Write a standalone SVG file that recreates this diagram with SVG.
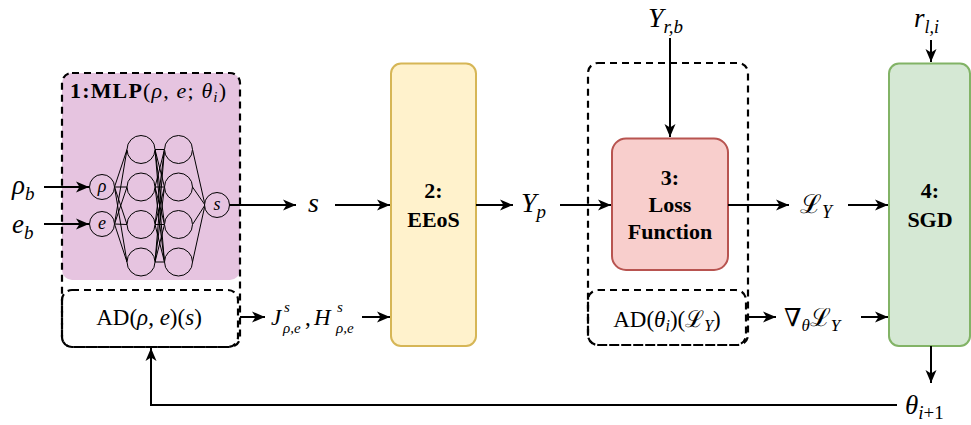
<svg xmlns="http://www.w3.org/2000/svg" width="971" height="425" viewBox="0 0 971 425">
<style>
text{font-family:'Liberation Serif','DejaVu Serif','Times New Roman',Times,serif;fill:#000}
.i{font-style:italic}
.b{font-weight:bold}
.c{fill:none;stroke:#000;stroke-width:2}
.d{fill:none;stroke:#000;stroke-width:2.2;stroke-dasharray:7 5}
.n{fill:none;stroke:#000;stroke-width:1}
.nc{fill:#E6C4E0;stroke:#000;stroke-width:1}
</style>
<defs>
<marker id="a" markerUnits="userSpaceOnUse" markerWidth="14" markerHeight="12" refX="13" refY="6" orient="auto">
<path d="M0,0.5 L13,6 L0,11.5 L3.5,6 z" fill="#000"/>
</marker>
</defs>
<rect width="971" height="425" fill="#fff"/>

<g id="mlp">
<rect x="62" y="73" width="178" height="207" rx="10" fill="#E6C4E0"/>
<rect x="62" y="73" width="178" height="274" rx="10" class="d"/>
<text x="70" y="98" font-size="22" textLength="156" lengthAdjust="spacing"><tspan class="b">1:MLP</tspan>(<tspan class="i">ρ</tspan>, <tspan class="i">e</tspan>; <tspan class="i">θ</tspan><tspan class="i" font-size="15" dy="4">i</tspan><tspan dy="-4">)</tspan></text>
<g id="net">
<path class="n" d="M114.5,187 L127,149.5 M114.5,187 L127,187 M114.5,187 L127,224.5 M114.5,187 L127,262 M114.5,224 L127,149.5 M114.5,224 L127,187 M114.5,224 L127,224.5 M114.5,224 L127,262"/>
<path class="n" d="M155,149.5 L164.5,149.5 M155,149.5 L164.5,187 M155,149.5 L164.5,224.5 M155,149.5 L164.5,262 M155,187 L164.5,149.5 M155,187 L164.5,187 M155,187 L164.5,224.5 M155,187 L164.5,262 M155,224.5 L164.5,149.5 M155,224.5 L164.5,187 M155,224.5 L164.5,224.5 M155,224.5 L164.5,262 M155,262 L164.5,149.5 M155,262 L164.5,187 M155,262 L164.5,224.5 M155,262 L164.5,262"/>
<path class="n" d="M192.5,149.5 L205,205 M192.5,187 L205,205 M192.5,224.5 L205,205 M192.5,262 L205,205"/>
<circle class="nc" cx="102" cy="187" r="12.5"/>
<circle class="nc" cx="102" cy="224" r="12.5"/>
<circle class="nc" cx="141" cy="149.5" r="14"/>
<circle class="nc" cx="141" cy="187" r="14"/>
<circle class="nc" cx="141" cy="224.5" r="14"/>
<circle class="nc" cx="141" cy="262" r="14"/>
<circle class="nc" cx="178.5" cy="149.5" r="14"/>
<circle class="nc" cx="178.5" cy="187" r="14"/>
<circle class="nc" cx="178.5" cy="224.5" r="14"/>
<circle class="nc" cx="178.5" cy="262" r="14"/>
<circle class="nc" cx="217" cy="205" r="12.5"/>
<text class="i" x="102" y="192" font-size="18" text-anchor="middle">ρ</text>
<text class="i" x="102" y="229" font-size="18" text-anchor="middle">e</text>
<text class="i" x="217" y="210" font-size="18" text-anchor="middle">s</text>
</g>
</g>

<g id="ad1">
<rect x="62" y="290" width="176" height="57" rx="10" class="d"/>
<text x="149" y="325" font-size="23" text-anchor="middle">AD(<tspan class="i">ρ</tspan>, <tspan class="i">e</tspan>)(<tspan class="i">s</tspan>)</text>
</g>

<g id="eeos">
<rect x="391" y="63.5" width="85" height="282.5" rx="10" fill="#FFF2CC" stroke="#D6B656" stroke-width="2"/>
<text class="b" x="433.5" y="198" font-size="22" text-anchor="middle">2:</text>
<text class="b" x="433.5" y="227" font-size="22" text-anchor="middle">EEoS</text>
</g>

<g id="lossgroup">
<rect x="588" y="63" width="160" height="282" rx="10" class="d"/>
<rect x="588" y="290" width="158" height="55" rx="10" class="d"/>
<text x="667" y="327" font-size="23" text-anchor="middle">AD(<tspan class="i">θ</tspan><tspan class="i" font-size="16" dy="4">i</tspan><tspan dy="-4">)(ℒ</tspan><tspan class="i" font-size="16" dy="4">Y</tspan><tspan dy="-4">)</tspan></text>
</g>

<g id="loss">
<rect x="612" y="138.5" width="116" height="131.5" rx="14" fill="#F8CECC" stroke="#B85450" stroke-width="2"/>
<text class="b" x="670" y="185" font-size="22" text-anchor="middle">3:</text>
<text class="b" x="670" y="212" font-size="22" text-anchor="middle">Loss</text>
<text class="b" x="670" y="239" font-size="22" text-anchor="middle">Function</text>
</g>

<g id="sgd">
<rect x="889" y="63.5" width="81" height="282.5" rx="10" fill="#D5E8D4" stroke="#82B366" stroke-width="2"/>
<text class="b" x="930" y="198" font-size="22" text-anchor="middle">4:</text>
<text class="b" x="930" y="227" font-size="22" text-anchor="middle">SGD</text>
</g>

<g id="labels">
<text class="i" x="12" y="194" font-size="27">ρ<tspan font-size="19" dy="6">b</tspan></text>
<text class="i" x="12" y="233" font-size="27">e<tspan font-size="19" dy="6">b</tspan></text>
<text class="i" x="308" y="212" font-size="28">s</text>
<text class="i" x="521" y="212" font-size="28">Y<tspan font-size="19" dy="6">p</tspan></text>
<text x="800" y="213" font-size="26">ℒ<tspan class="i" font-size="18" dy="5">Y</tspan></text>
<text class="i" x="648" y="27" font-size="28">Y<tspan font-size="19" dy="6">r,b</tspan></text>
<text class="i" x="914" y="27" font-size="27">r<tspan font-size="18" dy="6">l,i</tspan></text>
<text class="i" x="905" y="414" font-size="27">θ<tspan font-size="19" dy="5">i</tspan><tspan font-style="normal" font-size="19">+1</tspan></text>
<text class="i" x="271" y="325" font-size="23">J</text>
<text class="i" x="284" y="312" font-size="15">s</text>
<text class="i" x="283" y="333" font-size="15">ρ,e</text>
<text x="305" y="325" font-size="23">,</text>
<text class="i" x="314" y="325" font-size="23">H</text>
<text class="i" x="337" y="312" font-size="15">s</text>
<text class="i" x="336" y="333" font-size="15">ρ,e</text>
<text x="784" y="326" font-size="25">∇<tspan class="i" font-size="17" dy="5">θ</tspan><tspan font-size="25" dy="-5">ℒ</tspan><tspan class="i" font-size="17" dy="5">Y</tspan></text>
</g>

<g id="connectors">
<path class="c" d="M44,187 L89,187" marker-end="url(#a)"/>
<path class="c" d="M44,224 L89,224" marker-end="url(#a)"/>
<path class="c" d="M229.5,205 L296,205" marker-end="url(#a)"/>
<path class="c" d="M335,205 L390,205" marker-end="url(#a)"/>
<path class="c" d="M240,317 L265,317" marker-end="url(#a)"/>
<path class="c" d="M362,317 L390,317" marker-end="url(#a)"/>
<path class="c" d="M476,205 L513,205" marker-end="url(#a)"/>
<path class="c" d="M560,205 L611,205" marker-end="url(#a)"/>
<path class="c" d="M670,38 L670,137" marker-end="url(#a)"/>
<path class="c" d="M728,205 L789,205" marker-end="url(#a)"/>
<path class="c" d="M848,205 L888,205" marker-end="url(#a)"/>
<path class="c" d="M748,317 L776,317" marker-end="url(#a)"/>
<path class="c" d="M861,317 L888,317" marker-end="url(#a)"/>
<path class="c" d="M931,40 L931,62" marker-end="url(#a)"/>
<path class="c" d="M931,346 L931,383" marker-end="url(#a)"/>
<path class="c" d="M897,405 L151,405 L151,348" marker-end="url(#a)"/>
</g>
</svg>
